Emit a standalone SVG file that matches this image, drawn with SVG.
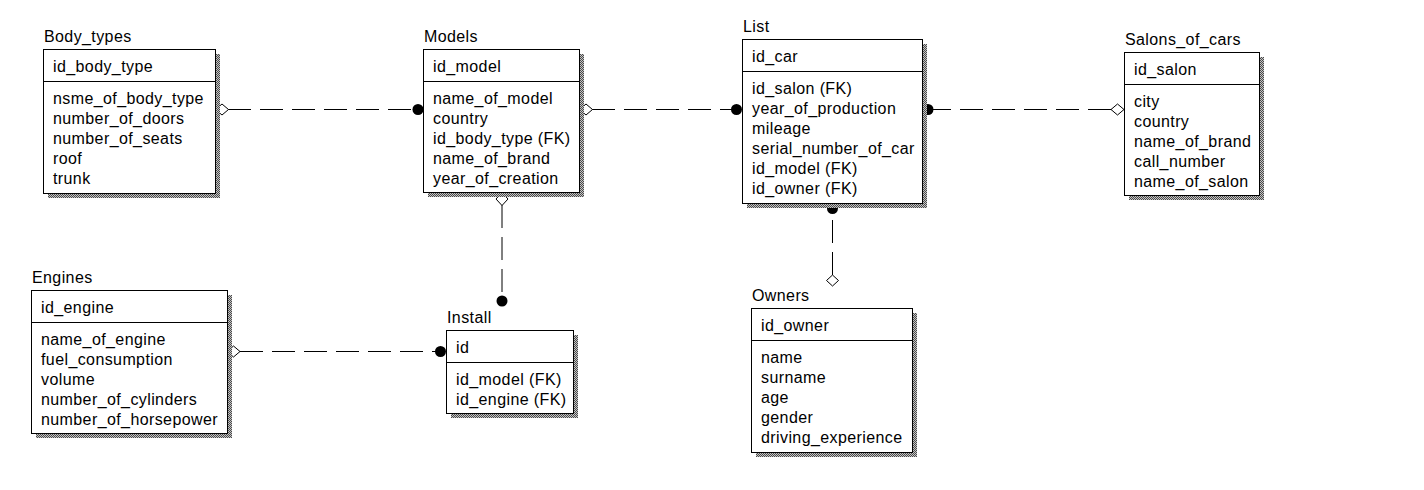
<svg xmlns="http://www.w3.org/2000/svg" width="1424" height="490" viewBox="0 0 1424 490">
<defs>
<pattern id="sh" width="2" height="2" patternUnits="userSpaceOnUse">
<rect width="2" height="2" fill="#c4c4c4"/>
<rect width="1" height="1" fill="#4a4a4a"/>
<rect x="1" y="1" width="1" height="1" fill="#4a4a4a"/>
</pattern>
</defs>
<style>
.box{fill:#fff;stroke:#000;stroke-width:1}
.shadow{fill:url(#sh)}
.div{stroke:#000;stroke-width:1}
text{font-family:"Liberation Sans",Arial,sans-serif;font-size:16px;letter-spacing:0.4px;fill:#000}
.rel{stroke:#000;stroke-width:1;stroke-dasharray:23 9;fill:none}
.dia{fill:#fff;stroke:#000;stroke-width:1}
.dot{fill:#000}
</style>
<rect width="1424" height="490" fill="#fff"/>

<g id="connectors">
<line class="rel" x1="228" y1="109.5" x2="413" y2="109.5"/>
<polygon class="dia" points="215.5,109.5 222,104 228.5,109.5 222,115"/>
<circle class="dot" cx="418" cy="109.5" r="5.5"/>

<line class="rel" x1="592" y1="109.5" x2="732" y2="109.5"/>
<polygon class="dia" points="579.5,109.5 586,104 592.5,109.5 586,115"/>
<circle class="dot" cx="736.5" cy="109.5" r="5.5"/>

<line class="rel" x1="1111" y1="109.5" x2="933" y2="109.5"/>
<circle class="dot" cx="928" cy="109.5" r="5.5"/>
<polygon class="dia" points="1111,109.5 1117.5,104 1124,109.5 1117.5,115"/>

<line class="rel" x1="502" y1="205" x2="502" y2="296"/>
<polygon class="dia" points="502,192.5 508,199 502,205.5 496,199"/>
<circle class="dot" cx="502" cy="301" r="5.5"/>

<line class="rel" x1="240" y1="351.5" x2="436" y2="351.5"/>
<polygon class="dia" points="227,351.5 233.5,346 240,351.5 233.5,357"/>
<circle class="dot" cx="440.5" cy="351.5" r="5.5"/>

<line class="rel" x1="832.5" y1="275" x2="832.5" y2="213"/>
<circle class="dot" cx="832.5" cy="208.5" r="5.5"/>
<polygon class="dia" points="832.5,275 838.5,280.5 832.5,286 826.5,280.5"/>
</g>

<g id="body_types">
<text x="44" y="42">Body_types</text>
<rect class="shadow" x="48" y="54" width="172" height="144"/>
<rect class="box" x="43.5" y="49.5" width="172" height="144"/>
<line class="div" x1="43.5" y1="81.5" x2="215.5" y2="81.5"/>
<text x="53" y="72">id_body_type</text>
<text x="53" y="104">nsme_of_body_type</text>
<text x="53" y="124">number_of_doors</text>
<text x="53" y="144">number_of_seats</text>
<text x="53" y="164">roof</text>
<text x="53" y="184">trunk</text>
</g>

<g id="models">
<text x="424" y="42">Models</text>
<rect class="shadow" x="428" y="54" width="156" height="143"/>
<rect class="box" x="423.5" y="49.5" width="156" height="143"/>
<line class="div" x1="423.5" y1="81.5" x2="579.5" y2="81.5"/>
<text x="433" y="72">id_model</text>
<text x="433" y="104">name_of_model</text>
<text x="433" y="124">country</text>
<text x="433" y="144">id_body_type (FK)</text>
<text x="433" y="164">name_of_brand</text>
<text x="433" y="184">year_of_creation</text>
</g>

<g id="list">
<text x="743" y="32">List</text>
<rect class="shadow" x="747" y="44" width="180" height="164"/>
<rect class="box" x="742.5" y="39.5" width="180" height="164"/>
<line class="div" x1="742.5" y1="71.5" x2="922.5" y2="71.5"/>
<text x="752" y="62">id_car</text>
<text x="752" y="94">id_salon (FK)</text>
<text x="752" y="114">year_of_production</text>
<text x="752" y="134">mileage</text>
<text x="752" y="154">serial_number_of_car</text>
<text x="752" y="174">id_model (FK)</text>
<text x="752" y="194">id_owner (FK)</text>
</g>

<g id="salons_of_cars">
<text x="1125" y="45">Salons_of_cars</text>
<rect class="shadow" x="1129" y="57" width="135" height="143"/>
<rect class="box" x="1124.5" y="52.5" width="135" height="143"/>
<line class="div" x1="1124.5" y1="84.5" x2="1259.5" y2="84.5"/>
<text x="1134" y="75">id_salon</text>
<text x="1134" y="107">city</text>
<text x="1134" y="127">country</text>
<text x="1134" y="147">name_of_brand</text>
<text x="1134" y="167">call_number</text>
<text x="1134" y="187">name_of_salon</text>
</g>

<g id="engines">
<text x="32" y="283">Engines</text>
<rect class="shadow" x="36" y="295" width="196" height="143"/>
<rect class="box" x="31.5" y="290.5" width="196" height="143"/>
<line class="div" x1="31.5" y1="322.5" x2="227.5" y2="322.5"/>
<text x="41" y="313">id_engine</text>
<text x="41" y="345">name_of_engine</text>
<text x="41" y="365">fuel_consumption</text>
<text x="41" y="385">volume</text>
<text x="41" y="405">number_of_cylinders</text>
<text x="41" y="425">number_of_horsepower</text>
</g>

<g id="install">
<text x="447" y="323">Install</text>
<rect class="shadow" x="451" y="335" width="127" height="83"/>
<rect class="box" x="446.5" y="330.5" width="127" height="83"/>
<line class="div" x1="446.5" y1="362.5" x2="573.5" y2="362.5"/>
<text x="456" y="353">id</text>
<text x="456" y="385">id_model (FK)</text>
<text x="456" y="405">id_engine (FK)</text>
</g>

<g id="owners">
<text x="752" y="301">Owners</text>
<rect class="shadow" x="756" y="313" width="161" height="144"/>
<rect class="box" x="751.5" y="308.5" width="161" height="144"/>
<line class="div" x1="751.5" y1="340.5" x2="912.5" y2="340.5"/>
<text x="761" y="331">id_owner</text>
<text x="761" y="363">name</text>
<text x="761" y="383">surname</text>
<text x="761" y="403">age</text>
<text x="761" y="423">gender</text>
<text x="761" y="443">driving_experience</text>
</g>
</svg>
